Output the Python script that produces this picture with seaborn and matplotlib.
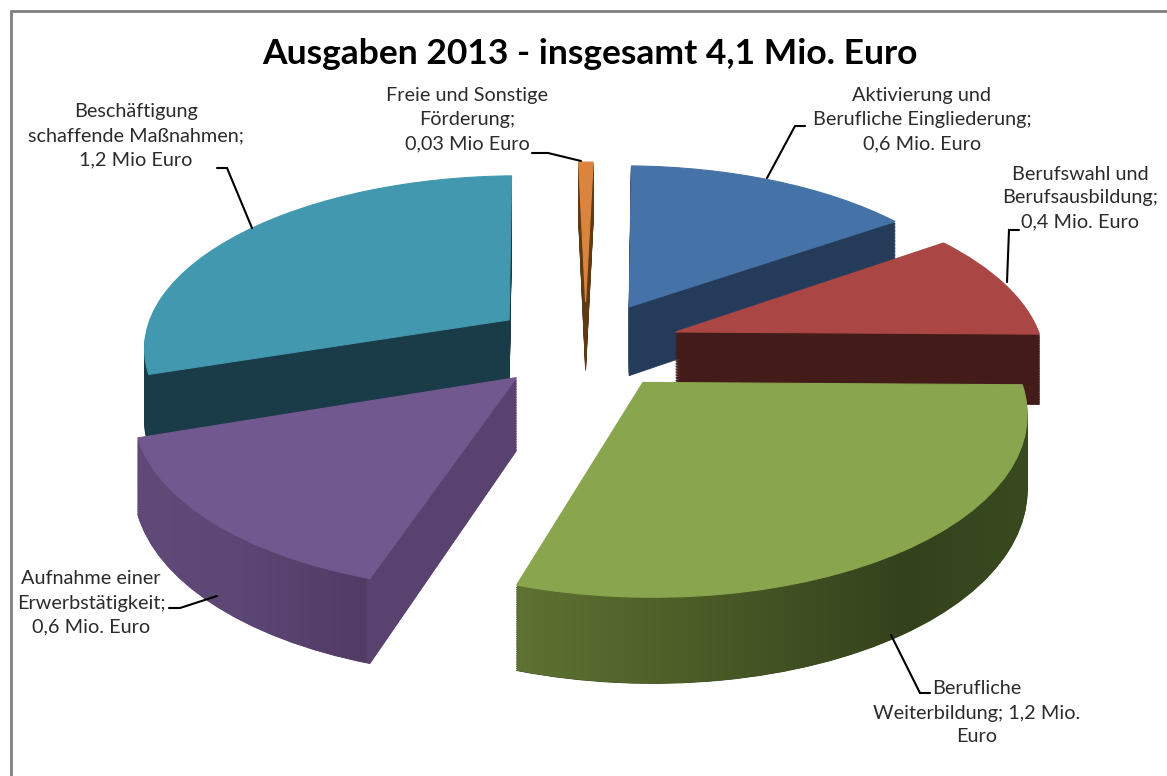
import numpy as np
import matplotlib
matplotlib.use("Agg")
import matplotlib.pyplot as plt
import seaborn as sns
from matplotlib.path import Path
from matplotlib.transforms import Transform
from matplotlib.colors import LinearSegmentedColormap

# data ------------------------------------------------------------------
title = "Ausgaben 2013 - insgesamt 4,1 Mio. Euro"
categories = ["Aktivierung und\nBerufliche Eingliederung;\n0,6 Mio. Euro",
              "Berufswahl und\nBerufsausbildung;\n0,4 Mio. Euro",
              "Berufliche\nWeiterbildung; 1,2 Mio.\nEuro",
              "Aufnahme einer\nErwerbstätigkeit;\n0,6 Mio. Euro",
              "Beschäftigung\nschaffende Maßnahmen;\n1,2 Mio Euro",
              "Freie und Sonstige\nFörderung;\n0,03 Mio Euro"]
values = [0.6, 0.4, 1.2, 0.6, 1.2, 0.03]
explode_share = [0.26] * 6

# styles ----------------------------------------------------------------
top_colors = ["#4572a7", "#aa4643", "#89a54e", "#71588f", "#4198af", "#db843d"]
side_colors = ["#253b5a", "#431c19", "#38451b", "#5a4370", "#193c48", "#5f3a15"]
draw_rank = [1, 3, 5, 4, 2, 0]
side_gradients = {
    2: [(0, "#5f7232"), (0.35, "#4b5c27"), (0.75, "#34421c"), (1, "#394a20")],
    3: [(0, "#5f4a78"), (0.25, "#5d4775"), (0.60, "#513c66"), (0.605, "#5a4270"), (1, "#5a4270")],
}
label_pos = [(922, 120), (1080, 198), (977, 713), (91, 603), (136, 136), (467, 120)]
leaders = [[(805, 126), (795, 126), (767, 178)],
           [(1019, 230), (1009, 230), (1007, 282)],
           [(930, 693), (920, 693), (891, 635)],
           [(169, 608), (180, 608), (217, 596)],
           [(217, 168), (227, 168), (252, 228)],
           [(532, 153), (548, 153), (581, 161)]]

sns.set_theme(style="white")
plt.rcParams["font.family"] = ["Lato", "DejaVu Sans"]

CX, CY, RX, RY, DEPTH, PERSP = 585.5, 345.0, 367.0, 171.7, 71.0, 0.145
START_ANGLE = 88.6


class Camera(Transform):
    """Projects the flat pie plane, lowered by `level`, to the picture."""
    input_dims = output_dims = 2
    is_separable = False
    has_inverse = False

    def __init__(self, level):
        super().__init__()
        self.level = level

    def transform_non_affine(self, xy):
        xy = np.asarray(xy, float)
        w = 1 + PERSP * xy[:, 1]
        return np.column_stack([CX + RX * xy[:, 0] / w,
                                CY - (RY * xy[:, 1] - self.level * DEPTH) / w])


fig = plt.figure(figsize=(11.67, 7.76), dpi=100)
ax = fig.add_axes([0, 0, 1, 1])
ax.set_facecolor("white")

levels = np.linspace(1, 0.03, 45)
pie_args = dict(explode=explode_share, startangle=START_ANGLE, counterclock=False)

stacks = {i: [] for i in range(len(values))}
for level in levels:
    wedges, _ = ax.pie(values, colors=side_colors, wedgeprops=dict(linewidth=0.6), **pie_args)
    cam = Camera(level)
    for i, wedge in enumerate(wedges):
        wedge.set_edgecolor(side_colors[i])
        wedge.set_transform(cam + ax.transData)
        wedge.set_zorder(10 * draw_rank[i] + 1)
        stacks[i].append((wedge.get_patch_transform() + cam).transform_path(wedge.get_path()))

tops, _ = ax.pie(values, colors=top_colors, wedgeprops=dict(linewidth=0.8), **pie_args)
top_cam = Camera(0.0)
for i, wedge in enumerate(tops):
    wedge.set_edgecolor(top_colors[i])
    wedge.set_transform(top_cam + ax.transData)
    wedge.set_zorder(10 * draw_rank[i] + 3)

for i, stops in side_gradients.items():
    compound = Path.make_compound_path(*stacks[i])
    x0, x1 = compound.vertices[:, 0].min(), compound.vertices[:, 0].max()
    y0, y1 = compound.vertices[:, 1].min(), compound.vertices[:, 1].max()
    cmap = LinearSegmentedColormap.from_list(f"side{i}", stops, N=512)
    im = ax.imshow(np.linspace(0, 1, 512)[None, :], cmap=cmap, aspect="auto",
                   extent=(x0, x1, y1, y0), zorder=10 * draw_rank[i] + 2)
    im.set_clip_path(compound, ax.transData)

for text, (x, y) in zip(categories, label_pos):
    ax.text(x, y, text, ha="center", va="center", fontsize=14.3, color="#2b2b2b",
            linespacing=1.5, zorder=100)
for pts in leaders:
    xs, ys = zip(*pts)
    ax.plot(xs, ys, color="black", lw=1.5, solid_joinstyle="miter", zorder=99)

ax.text(590, 54, title, ha="center", va="center", fontsize=25.5, fontweight="bold",
        color="black", zorder=100)

# chart frame, open to the right and bottom as in the cropped screenshot
ax.plot([11, 11, 1167], [776, 11, 11], color="#808080", lw=2, zorder=100,
        solid_joinstyle="miter")

ax.set_aspect("auto")
ax.set_xlim(0, 1167)
ax.set_ylim(776, 0)
ax.set_axis_off()
fig.savefig("out.png", dpi=100, facecolor="white")
